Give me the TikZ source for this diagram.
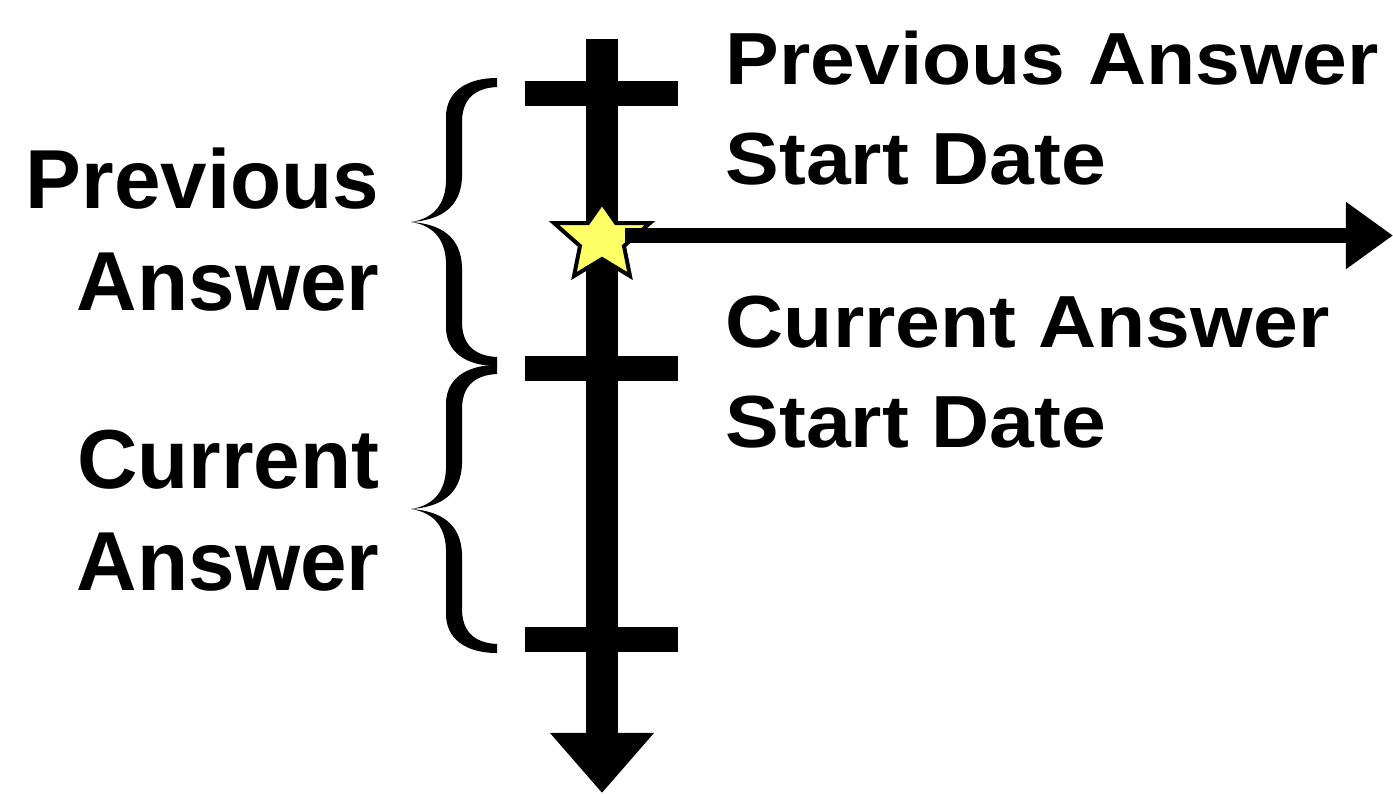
\documentclass[tikz,border=0pt]{standalone}
\usepackage{fontspec}
\setmainfont{Liberation Sans}
\newfontfamily\widefont[FakeStretch=1.09]{Liberation Sans}
\usetikzlibrary{arrows.meta}
\definecolor{staryellow}{RGB}{255,255,102}

\tikzset{
  timeline/.style={line width=0.32cm,-{Triangle[width=1cm,length=0.6cm]}},
  ticbar/.style={line width=0.25cm},
  nowline/.style={line width=0.15cm,-{Triangle[width=0.64cm,length=0.47cm]}},
  datelabel/.style={font=\widefont\bfseries\fontsize{21}{28.2}\selectfont,align=left,inner sep=0pt},
  spanlabel/.style={font=\bfseries\fontsize{23.8}{29}\selectfont,align=right,inner sep=0pt},
}

\begin{document}
\begin{tikzpicture}[x=0.01cm,y=-0.01cm]
    \useasboundingbox (0,0) rectangle (1393,793);
    % time runs down
    \coordinate (axistop) at (602,39);
    \coordinate (axisbottom) at (602,793);
    \draw[timeline] (axistop) -- (axisbottom);
    \foreach \ty [count=\i] in {93.5,368.5,639} {
        \coordinate (ticl\i) at (525,\ty);
        \coordinate (ticr\i) at (678,\ty);
        \draw[ticbar] (ticl\i) -- (ticr\i);
    }
    % braces
    \foreach \cy in {222,509} {
        \fill[shift={(411,\cy)}] (0,0) .. controls (20,-3) and (34,-15) .. (35,-40) -- (35,-105)
            .. controls (35,-130) and (55,-144) .. (86,-144) -- (86,-135)
            .. controls (63,-134) and (51,-122) .. (51,-100) -- (51,-45)
            .. controls (50,-15) and (30,-2) .. (0,0)
            .. controls (30,2) and (50,15) .. (51,45) -- (51,100)
            .. controls (51,122) and (63,134) .. (86,135) -- (86,144)
            .. controls (55,144) and (35,130) .. (35,105) -- (35,40)
            .. controls (34,15) and (20,3) .. (0,0) -- cycle;
    }
    % now
    \coordinate (star) at (602,240);
    \filldraw[fill=staryellow,line width=0.04cm,line join=miter] (602,203) -- (616,223) -- (650,223) -- (624,246) -- (630,276) -- (602,259) -- (574,276) -- (580,246) -- (554,223) -- (588,223) -- cycle;
    \coordinate (hstart) at (625,235.5);
    \coordinate (hend) at (1393,235.5);
    \draw[nowline] (hstart) -- (hend);
    \node[datelabel,anchor=base west] (prevstart) at (725,184) {Previous Answer\\Start Date};
    \node[datelabel,anchor=base west] (curstart) at (725,447) {Current Answer\\Start Date};
    \node[spanlabel,anchor=base east] (prevans) at (380,310) {Previous\\Answer};
    \node[spanlabel,anchor=base east] (curans) at (380,590) {Current\\Answer};
\end{tikzpicture}
\end{document}
